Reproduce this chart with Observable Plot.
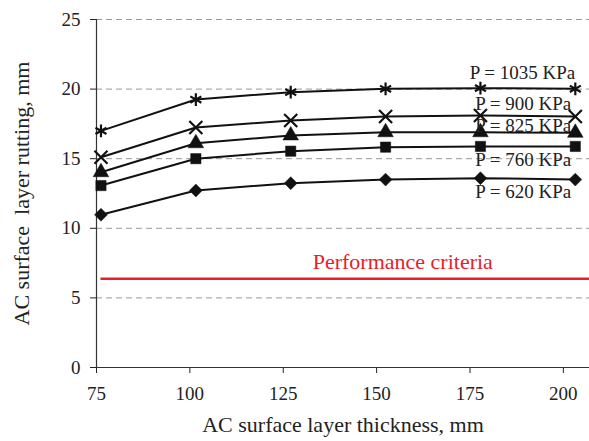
<!DOCTYPE html>
<html><head><meta charset="utf-8">
<script src="https://cdn.jsdelivr.net/npm/d3@7"></script>
<script src="https://cdn.jsdelivr.net/npm/@observablehq/plot@0.6"></script>
<style>html,body{margin:0;padding:0;background:#fff;}</style>
</head><body><div id="chart"></div>
<script>
const thickness = [76.2, 101.6, 127, 152.4, 177.8, 203.2];
const seriesNames = ["P = 1035 KPa", "P = 900 KPa", "P = 825 KPa", "P = 760 KPa", "P = 620 KPa"];
const rut1035 = [17.0, 19.25, 19.78, 20.02, 20.07, 20.02];
const rut900 = [15.1, 17.24, 17.74, 18.03, 18.1, 18.03];
const rut825 = [14.03, 16.11, 16.67, 16.9, 16.9, 16.86];
const rut760 = [13.07, 15.0, 15.54, 15.83, 15.88, 15.88];
const rut620 = [10.97, 12.72, 13.24, 13.5, 13.6, 13.5];
const criteria = 6.37;
const criteriaLabel = "Performance criteria";
const xTicks = [75, 100, 125, 150, 175, 200];
const yTicks = [0, 5, 10, 15, 20, 25];
const xTitle = "AC surface layer thickness, mm";
const yTitle = "AC surface  layer rutting, mm";

const values = [rut1035, rut900, rut825, rut760, rut620];
const symbols = ["asterisk", "times", "triangle", "square", "diamond2"];
const filled = [false, false, true, true, true];
const labelDy = [-16, -13, -7, 13, 12];
const labelDx = [0, -4, -4, -4, -4];

const rows = [];
seriesNames.forEach((s, i) => thickness.forEach((t, j) => rows.push({series: s, i, t, v: values[i][j]})));

const font = "'Liberation Serif', 'DejaVu Serif', serif";
const marks = [
  Plot.gridY([5, 10, 15, 20, 25], {stroke: "#999", strokeOpacity: 1, strokeDasharray: "6,4", strokeWidth: 1}),
  Plot.ruleY([criteria], {x1: thickness[0], x2: 207, stroke: "#e8202a", strokeWidth: 2.5}),
  Plot.text([criteriaLabel], {x: 157, y: criteria, text: d => d, dy: -17, fill: "#e8202a", fontSize: 22, textAnchor: "middle"}),
  Plot.axisY({ticks: yTicks, tickSize: 6, tickPadding: 10, fontSize: 19, label: null}),
  Plot.axisX({ticks: xTicks, tickSize: 6, tickPadding: 13, fontSize: 19, label: null}),
  Plot.ruleX([75], {stroke: "#333", strokeWidth: 1.2}),
  Plot.ruleY([0], {stroke: "#333", strokeWidth: 1.2}),
  Plot.line(rows, {x: "t", y: "v", z: "series", stroke: "#111", strokeWidth: 2})
];
seriesNames.forEach((s, i) => {
  const d = rows.filter(r => r.i === i);
  marks.push(Plot.dot(d, {x: "t", y: "v", symbol: () => symbols[i], r: symbols[i] === "asterisk" || symbols[i] === "times" ? 6 : 5.8,
    fill: filled[i] ? "#111" : "none", stroke: "#111", strokeWidth: filled[i] ? 0.5 : 2.2}));
  const last = d[d.length - 1];
  marks.push(Plot.text([last], {x: "t", y: "v", text: () => s, textAnchor: "end", dy: labelDy[i], dx: labelDx[i], fontSize: 19, fill: "#222"}));
});
marks.push(Plot.text([xTitle], {frameAnchor: "bottom", text: d => d, dy: 64, fontSize: 22, fill: "#222"}));
marks.push(Plot.text([yTitle], {frameAnchor: "left", textAnchor: "middle", text: d => d, dx: -75, rotate: -90, fontSize: 22, fill: "#222"}));

const chart = Plot.plot({
  width: 589, height: 441,
  marginLeft: 96, marginRight: 0, marginTop: 19, marginBottom: 74,
  style: {fontFamily: font, color: "#222", background: "#fff", overflow: "visible"},
  x: {domain: [75, 207]},
  y: {domain: [0, 25]},
  symbol: {type: "identity"},
  marks
});
document.getElementById("chart").appendChild(chart);
</script></body></html>
